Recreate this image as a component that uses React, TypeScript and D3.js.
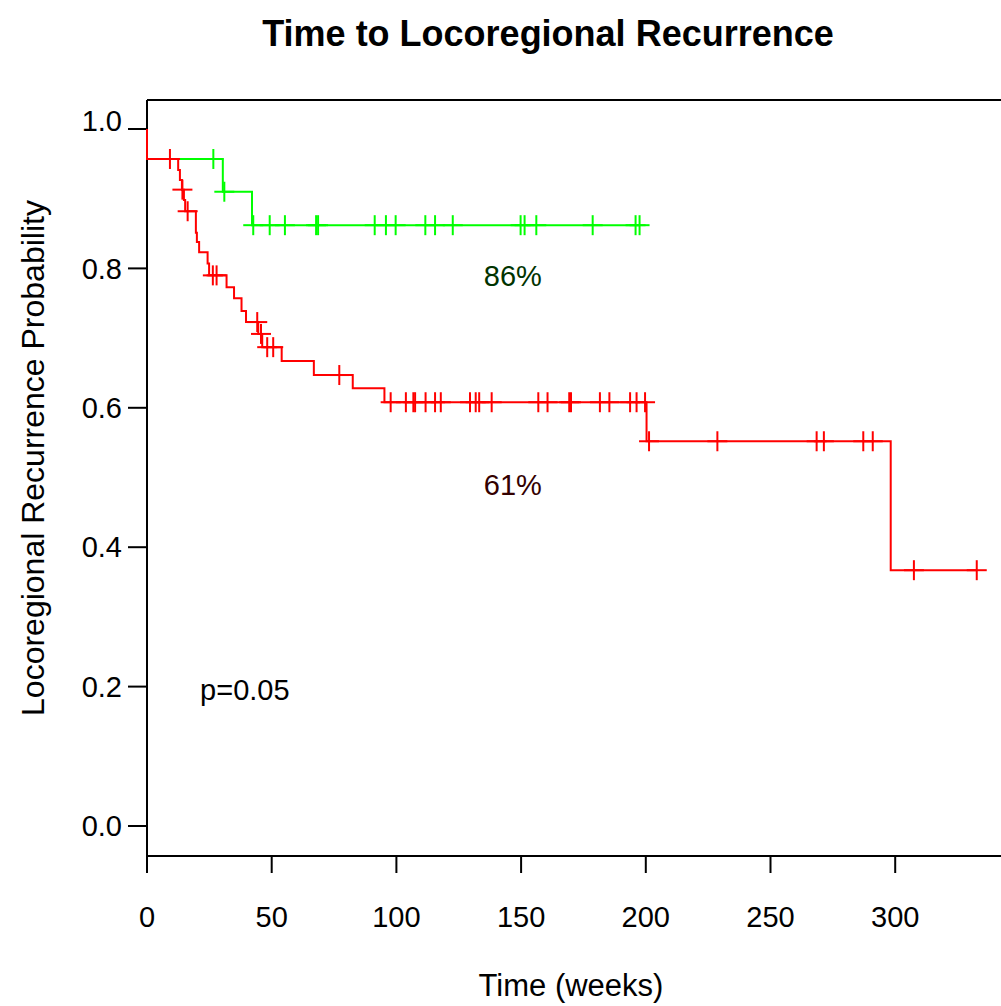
import * as d3 from 'd3';

// Kaplan-Meier data (time in weeks)
const redEventTimes = [0, 12.5, 13.2, 14.0, 14.8, 15.3, 19.6, 20.0, 20.9, 24.3, 24.9, 31.9, 34.9, 37.9, 39.7, 44.6, 46.2, 54.0, 66.9, 82.5, 95.2, 200.3, 298.2];
const redSurvival = [0.957, 0.941, 0.927, 0.913, 0.898, 0.882, 0.851, 0.838, 0.823, 0.807, 0.79, 0.773, 0.757, 0.739, 0.723, 0.706, 0.687, 0.667, 0.647, 0.628, 0.608, 0.552, 0.367];
const redCensored = [9.2, 14.2, 16.3, 26.4, 27.9, 44.2, 45.7, 48.2, 50.6, 77.1, 97.7, 103.8, 106.8, 107.5, 111.7, 115.5, 117.8, 129.5, 131.8, 133.2, 138.2, 156.9, 160.6, 169.3, 170, 181.6, 185.4, 193.7, 196.3, 199.7, 201.3, 228.7, 268.5, 271.4, 287.2, 291, 307.5, 332.7];

const greenEventTimes = [0, 30.4, 42.1];
const greenSurvival = [0.957, 0.91, 0.862];
const greenCensored = [26.6, 31.0, 42.6, 49.2, 55.3, 67.8, 68.6, 91.3, 95.8, 99.7, 111.6, 115.5, 122.6, 149.8, 151.4, 156.1, 178.7, 195.9, 197.5];

const xTicks = [0, 50, 100, 150, 200, 250, 300];
const yTicks = [0, 0.2, 0.4, 0.6, 0.8, 1.0];

const W = 1001;
const H = 1006;
const FONT = '"Liberation Sans", Arial, sans-serif';

const x = d3.scaleLinear().domain([0, 300]).range([147, 895.2]);
const y = d3.scaleLinear().domain([0, 1]).range([826, 129]);

// survival value at time t (step function)
function survAt(times: number[], surv: number[], t: number) {
  let s = 1;
  for (let i = 0; i < times.length; i++) {
    if (times[i] <= t) s = surv[i];
  }
  return s;
}

function kmPoints(times: number[], surv: number[], censored: number[]) {
  const pts: [number, number][] = [[0, 1]];
  times.forEach((t, i) => pts.push([t, surv[i]]));
  const end = Math.max(times[times.length - 1], censored[censored.length - 1]);
  pts.push([end, surv[surv.length - 1]]);
  return pts;
}

const line = d3.line<[number, number]>()
  .x(d => x(d[0]))
  .y(d => y(d[1]))
  .curve(d3.curveStepAfter);

function Curve({ times, surv, censored, color }: { times: number[]; surv: number[]; censored: number[]; color: string }) {
  const pts = kmPoints(times, surv, censored);
  return (
    <g stroke={color} strokeWidth={2} fill="none">
      <path d={line(pts) || ''} />
      {censored.map((t, i) => {
        const cx = x(t);
        const cy = y(survAt(times, surv, t));
        return (
          <g key={i}>
            <line x1={cx} x2={cx} y1={cy - 10} y2={cy + 10} />
            <line x1={cx - 10} x2={cx + 10} y1={cy} y2={cy} />
          </g>
        );
      })}
    </g>
  );
}

export default function App() {
  return (
    <svg width={W} height={H} style={{ position: 'absolute', left: 0, top: 0, background: '#fff' }} fontFamily={FONT}>
      <rect width={W} height={H} fill="#fff" />
      <text x={548} y={46} textAnchor="middle" fontSize={36} fontWeight="bold">Time to Locoregional Recurrence</text>

      {/* frame */}
      <g stroke="#000" strokeWidth={2} fill="none">
        <line x1={147} x2={W} y1={100} y2={100} />
        <line x1={147} x2={W} y1={856} y2={856} />
        <line x1={147} x2={147} y1={100} y2={856} />
      </g>

      {/* y axis */}
      {yTicks.map((v, i) => (
        <g key={i}>
          <line x1={128} x2={147} y1={y(v)} y2={y(v)} stroke="#000" strokeWidth={2} />
          <text x={122} y={v === 1 ? y(v) - 8 : y(v)} dy="0.35em" textAnchor="end" fontSize={29}>{d3.format('.1f')(v)}</text>
        </g>
      ))}

      {/* x axis */}
      {xTicks.map((v, i) => (
        <g key={i}>
          <line x1={x(v)} x2={x(v)} y1={856} y2={873} stroke="#000" strokeWidth={2} />
          <text x={x(v)} y={917} dy="0.35em" textAnchor="middle" fontSize={29}>{v}</text>
        </g>
      ))}

      <text x={571} y={985} dy="0.35em" textAnchor="middle" fontSize={31}>Time (weeks)</text>
      <text transform={`translate(33,458) rotate(-90)`} dy="0.35em" textAnchor="middle" fontSize={32}>Locoregional Recurrence Probability</text>

      <Curve times={greenEventTimes} surv={greenSurvival} censored={greenCensored} color="#00ff00" />
      <Curve times={redEventTimes} surv={redSurvival} censored={redCensored} color="#ff0000" />

      <text x={x(146.7)} y={y(0.79)} dy="0.35em" textAnchor="middle" fontSize={29} fill="#003300">86%</text>
      <text x={x(146.7)} y={y(0.489)} dy="0.35em" textAnchor="middle" fontSize={29} fill="#330000">61%</text>
      <text x={x(21.3)} y={y(0.195)} dy="0.35em" fontSize={29} fill="#000">p=0.05</text>
    </svg>
  );
}
